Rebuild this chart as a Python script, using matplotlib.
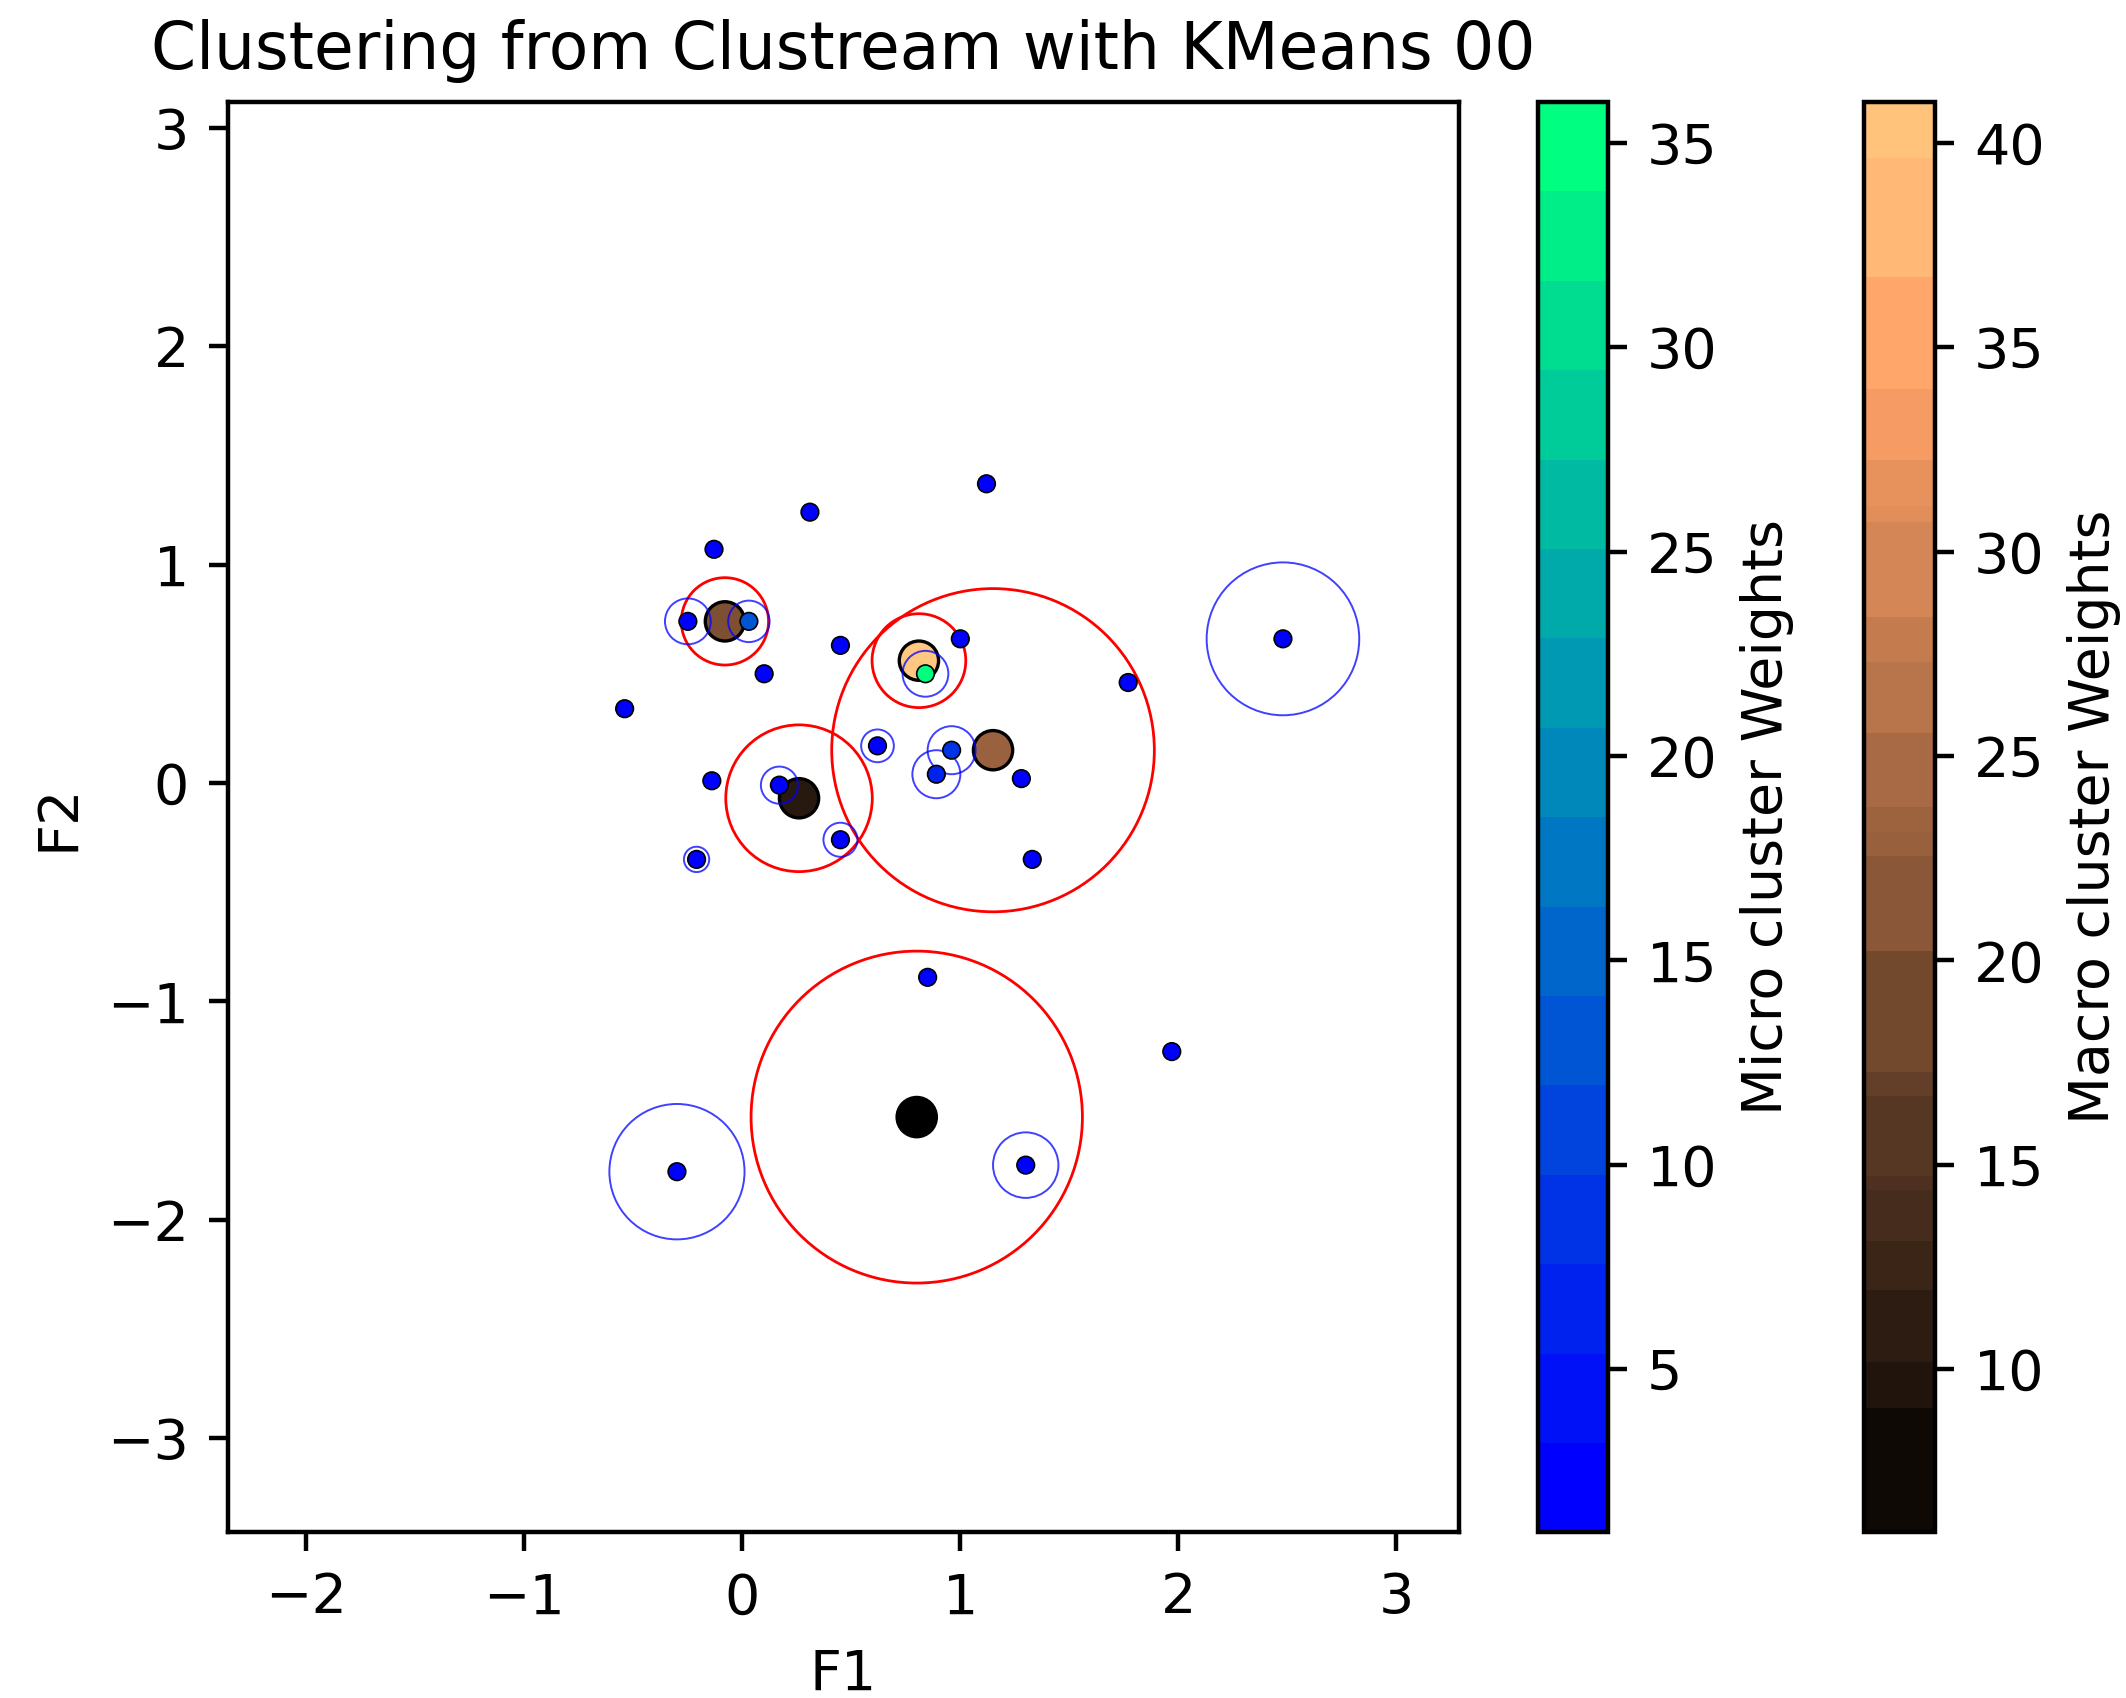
import numpy as np
import matplotlib
matplotlib.use("Agg")
import matplotlib.pyplot as plt
from matplotlib.patches import Circle
import matplotlib.colors as colors

# micro clusters: centres, radii, weights
micro_x = [1.12, 0.31, -0.13, -0.25, 0.03, 1.00, 2.48, 0.45, 0.10, 0.84, 1.77, -0.54, 0.62,
           0.96, -0.14, 0.17, 0.89, 1.28, 0.45, -0.21, 1.33, 0.85, 1.97, -0.30, 1.30]
micro_y = [1.37, 1.24, 1.07, 0.74, 0.74, 0.66, 0.66, 0.63, 0.50, 0.50, 0.46, 0.34, 0.17,
           0.15, 0.01, -0.01, 0.04, 0.02, -0.26, -0.35, -0.35, -0.89, -1.23, -1.78, -1.75]
micro_r = [0.0, 0.0, 0.0, 0.105, 0.095, 0.0, 0.35, 0.0, 0.0, 0.105, 0.0, 0.0, 0.075,
           0.11, 0.0, 0.085, 0.11, 0.0, 0.078, 0.058, 0.0, 0.0, 0.0, 0.31, 0.15]
micro_w = [2, 2, 1, 3, 13, 2, 3, 2, 1, 36, 2, 1, 3,
           9, 1, 3, 6, 2, 3, 2, 1, 2, 1, 3, 3]

# macro clusters
macro_x = [-0.08, 0.81, 1.15, 0.26, 0.80]
macro_y = [0.74, 0.56, 0.15, -0.07, -1.53]
macro_r = [0.20, 0.215, 0.74, 0.336, 0.76]
macro_w = [20, 41, 23, 10.5, 6]

macro_levels = [6, 9.05, 10.17, 11.93, 13.12, 14.39, 14.71, 16.68, 17.27, 20.22, 22.54,
                23.15, 23.76, 25.56, 27.29, 28.41, 30.73, 31.12, 32.24, 33.98, 36.73,
                39.63, 41]

plt.rcParams['font.size'] = 10

fig = plt.figure(figsize=(2126/400, 1698/400), dpi=400)
ax = fig.add_axes([0.1072, 0.0975, 0.5790, 0.8424])
cax1 = fig.add_axes([0.7234, 0.0975, 0.0329, 0.8424])
cax2 = fig.add_axes([0.8768, 0.0975, 0.0334, 0.8424])

micro_cmap = plt.get_cmap('winter').resampled(16)
macro_cmap = plt.get_cmap('copper')

sc_macro = ax.scatter(macro_x, macro_y, c=macro_w, cmap=macro_cmap, vmin=6, vmax=41,
                      s=50, edgecolors='black', linewidths=0.6, zorder=2)
for x, y, r in zip(macro_x, macro_y, macro_r):
    ax.add_patch(Circle((x, y), r, fill=False, edgecolor='red', lw=0.5, zorder=3))
for x, y, r in zip(micro_x, micro_y, micro_r):
    if r > 0:
        ax.add_patch(Circle((x, y), r, fill=False, edgecolor='blue', lw=0.35,
                            alpha=0.75, zorder=3))
sc_micro = ax.scatter(micro_x, micro_y, c=micro_w, cmap=micro_cmap, vmin=1, vmax=36,
                      s=10, edgecolors='black', linewidths=0.3, zorder=4)

ax.set_xlim(-2.36, 3.287)
ax.set_ylim(-3.432, 3.118)
ax.set_xticks([-2, -1, 0, 1, 2, 3])
ax.set_yticks([-3, -2, -1, 0, 1, 2, 3])
ax.set_xlabel('F1')
ax.set_ylabel('F2')
ax.set_title('Clustering from Clustream with KMeans 00', fontsize=11.65)

cb1 = fig.colorbar(sc_micro, cax=cax1)
cb1.set_ticks([5, 10, 15, 20, 25, 30, 35])
cb1.set_label('Micro cluster Weights')
cb2 = fig.colorbar(sc_macro, cax=cax2, boundaries=macro_levels, spacing='proportional')
cb2.set_ticks([10, 15, 20, 25, 30, 35, 40])
cb2.set_label('Macro cluster Weights')

fig.savefig('out.png', dpi=400)
